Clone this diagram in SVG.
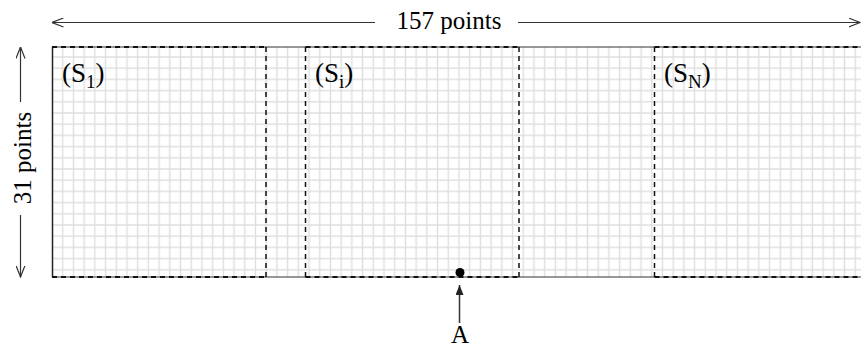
<svg xmlns="http://www.w3.org/2000/svg" width="861" height="352" viewBox="0 0 861 352">
<style>
.lbl{font-family:"Liberation Serif","Times New Roman",serif;font-size:25px;fill:#000}
.sl{font-size:27px}
.dim{stroke:#333;stroke-width:1.2;fill:none}
.dash{stroke:#111;fill:none;stroke-dasharray:5 4}
</style>
<defs>
<pattern id="grid" x="57.355" y="51.4" width="10.71" height="11.2" patternUnits="userSpaceOnUse">
<path d="M5.355,0 V11.2 M0,5.6 H10.71" stroke="#dedede" stroke-width="1.4" fill="none"/>
</pattern>
<marker id="open" viewBox="0 0 12 10" refX="11.5" refY="5" markerWidth="12" markerHeight="10" markerUnits="userSpaceOnUse" orient="auto-start-reverse">
<path d="M0,0.5 L11.5,5 L0,9.5" fill="none" stroke="#333" stroke-width="1.2"/>
</marker>
<marker id="solid" viewBox="0 0 10 8" refX="10" refY="4" markerWidth="10" markerHeight="8" markerUnits="userSpaceOnUse" orient="auto">
<path d="M0,0 L10,4 L0,8 Z" fill="#222"/>
</marker>
</defs>

<g id="sheet">
<rect x="52" y="47" width="809" height="230" fill="#fff"/>
<rect x="52" y="47" width="809" height="230" fill="url(#grid)"/>
<path d="M52,47 H861 M52,277 H861" stroke="#333" stroke-width="1"/>
<path d="M52.5,47 V277" stroke="#222" stroke-width="1.5"/>
</g>

<g id="S1">
<path class="dash" stroke-width="2" d="M52,47 H266 M52,277 H266"/>
<path class="dash" stroke-width="1.5" d="M266,47 V277"/>
<text class="lbl sl" x="62" y="82">(S<tspan font-size="19" dy="6">1</tspan><tspan dy="-6">)</tspan></text>
</g>

<g id="Si">
<path class="dash" stroke-width="2" d="M305.5,47 H519 M305.5,277 H519"/>
<path class="dash" stroke-width="1.5" d="M305.5,47 V277 M519,47 V277"/>
<text class="lbl sl" x="315" y="82">(S<tspan font-size="19" dy="6">i</tspan><tspan dy="-6">)</tspan></text>
</g>

<g id="SN">
<path class="dash" stroke-width="2" d="M654.5,47 H861 M654.5,277 H861"/>
<path class="dash" stroke-width="1.5" d="M654.5,47 V277"/>
<text class="lbl sl" x="664" y="82">(S<tspan font-size="19" dy="6">N</tspan><tspan dy="-6">)</tspan></text>
</g>

<g id="A">
<circle cx="460" cy="272.5" r="4.5" fill="#000"/>
<text class="lbl" x="460" y="343" text-anchor="middle" font-size="30">A</text>
</g>

<g id="connectors">
<path class="dim" d="M375,22.5 H52" marker-end="url(#open)"/>
<path class="dim" d="M518,22.5 H860" marker-end="url(#open)"/>
<path class="dim" d="M20.5,102 V47" marker-end="url(#open)"/>
<path class="dim" d="M20.5,215 V277" marker-end="url(#open)"/>
<path d="M459.5,323 V285" stroke="#333" stroke-width="1.5" fill="none" marker-end="url(#solid)"/>
</g>

<g id="dims">
<text class="lbl" x="449" y="29" text-anchor="middle">157 points</text>
<text class="lbl" transform="translate(31,158) rotate(-90)" text-anchor="middle">31 points</text>
</g>
</svg>
